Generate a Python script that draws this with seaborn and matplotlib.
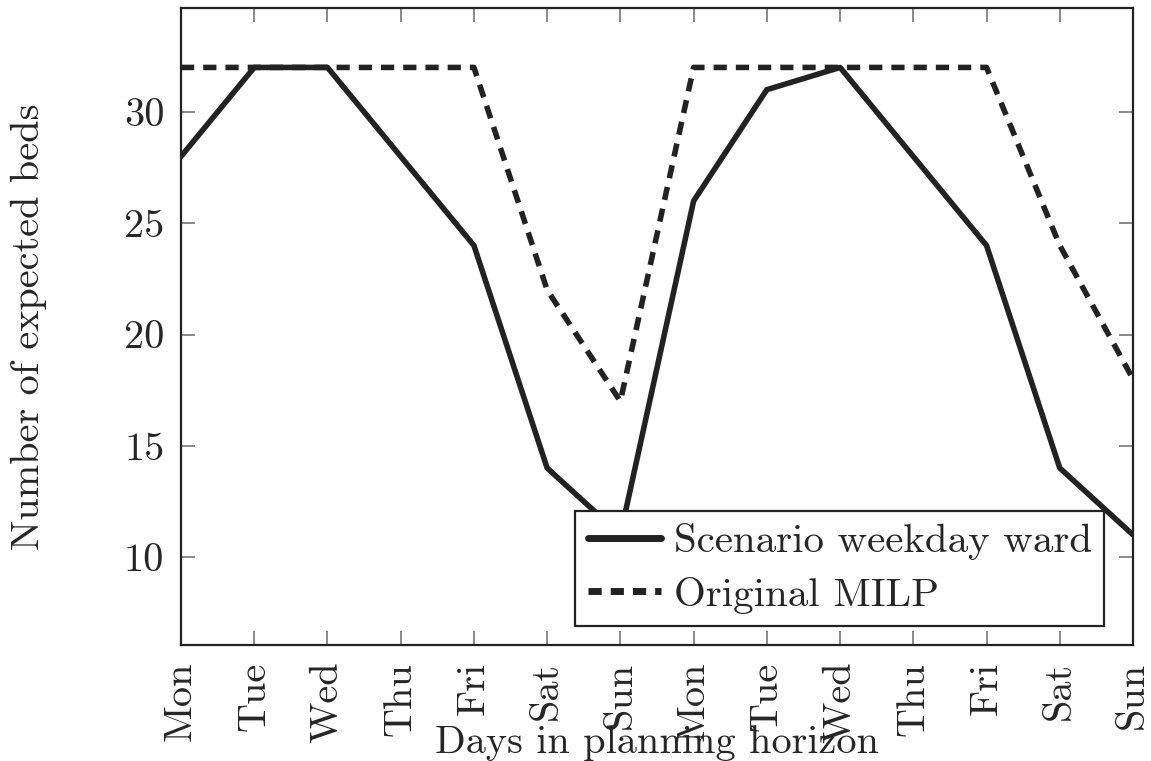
import matplotlib
matplotlib.use("Agg")
import matplotlib.pyplot as plt
import seaborn as sns
import pandas as pd
import numpy as np

days = ["Mon", "Tue", "Wed", "Thu", "Fri", "Sat", "Sun",
        "Mon", "Tue", "Wed", "Thu", "Fri", "Sat", "Sun"]
scenario = [28, 32, 32, 28, 24, 14, 11, 26, 31, 32, 28, 24, 14, 11]
original = [32, 32, 32, 32, 32, 22, 17, 32, 32, 32, 32, 32, 24, 18]
y_ticks = [10, 15, 20, 25, 30]

sns.set_style("white")
plt.rcParams['font.family'] = ['cmr10', 'DejaVu Serif']
plt.rcParams['axes.formatter.use_mathtext'] = True
plt.rcParams['lines.scale_dashes'] = False

pos = np.arange(len(days))
df = pd.DataFrame({"day": pos, "Scenario weekday ward": scenario,
                   "Original MILP": original})

fig = plt.figure(figsize=(11.51, 7.61), dpi=100)
ax = fig.add_axes([181 / 1151, 1 - 645 / 761, (1133 - 181) / 1151, (645 - 8) / 761])

col = "#222222"
sns.lineplot(data=df, x="day", y="Scenario weekday ward", ax=ax, color=col,
             linewidth=4.0, label="Scenario weekday ward")
sns.lineplot(data=df, x="day", y="Original MILP", ax=ax, color=col,
             linewidth=4.0, label="Original MILP")
ax.lines[1].set_dashes((9.5, 6.5))

ax.set_xlim(0, len(days) - 1)
ax.set_ylim(6.05, 34.67)
ax.set_xticks(pos)
ax.set_xticklabels(days, rotation=90, fontsize=29)
ax.set_yticks(y_ticks)
ax.set_yticklabels([str(t) for t in y_ticks], fontsize=29)
ax.tick_params(direction="in", length=10, width=1.2, color="#777777",
               top=True, right=True, bottom=True, left=True, pad=12)
for s in ax.spines.values():
    s.set_linewidth(1.6)
    s.set_color("#222222")
    s.set_visible(True)

ax.set_xlabel("Days in planning horizon", fontsize=29, labelpad=-13)
ax.set_ylabel("Number of expected beds", fontsize=29, labelpad=55)

leg = ax.legend(loc="lower right", fontsize=29.5, frameon=True, fancybox=False,
                edgecolor="#222222", framealpha=1, borderpad=0.3,
                handlelength=1.8, handletextpad=0.3, labelspacing=0.4,
                borderaxespad=0, bbox_to_anchor=(0.9695, 0.0298))
leg.get_frame().set_linewidth(1.6)
for h in leg.get_lines():
    h.set_linewidth(5)

fig.savefig("out.png", dpi=100)
